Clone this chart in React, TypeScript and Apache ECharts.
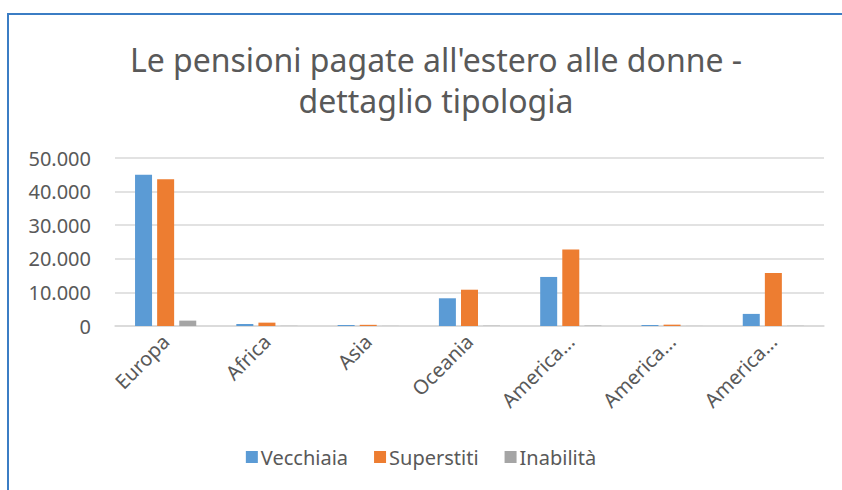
import React, { useEffect, useRef } from "react";
import * as echarts from "echarts";

const categories = [
  "Europa",
  "Africa",
  "Asia",
  "Oceania",
  "America settentrionale",
  "America centrale",
  "America meridionale",
];
const vecchiaia = [45000, 600, 300, 8250, 14600, 300, 3600];
const superstiti = [43650, 1000, 350, 10800, 22800, 400, 15800];
const inabilita = [1600, 50, 30, 80, 120, 20, 60];
const seriesNames = ["Vecchiaia", "Superstiti", "Inabilità"];
const yTicks = { min: 0, max: 50000, interval: 10000 };
const titleText = "Le pensioni pagate all'estero alle donne -\ndettaglio tipologia";

const FONT = "'Noto Sans', 'Open Sans', sans-serif";
const TEXT = "#595959";

export default function App() {
  const ref = useRef<HTMLDivElement>(null);
  useEffect(() => {
    if (!ref.current) return;
    const chart = echarts.init(ref.current, null, { renderer: "svg" });
    const colors = ["#5b9bd5", "#ed7d31", "#a5a5a5"];
    const data = [vecchiaia, superstiti, inabilita];
    chart.setOption({
      animation: false,
      backgroundColor: "#ffffff",
      color: colors,
      textStyle: { fontFamily: FONT },
      title: {
        text: titleText,
        left: 431,
        textAlign: "center",
        top: 34,
        textStyle: {
          fontFamily: FONT,
          fontSize: 32,
          fontWeight: "normal",
          color: TEXT,
          lineHeight: 41,
        },
      },
      graphic: [
        {
          type: "rect",
          shape: { x: 8, y: 14, width: 900, height: 600 },
          style: { fill: "none", stroke: "#3b7dc4", lineWidth: 2 },
          silent: true,
          z: 100,
        },
      ],
      legend: {
        data: seriesNames,
        bottom: 18,
        left: "center",
        itemWidth: 12,
        itemHeight: 12,
        itemGap: 26,
        icon: "rect",
        textStyle: { fontFamily: FONT, fontSize: 20, color: TEXT, padding: [0, 0, 0, -2] },
      },
      grid: { left: 115, right: 18, top: 158, bottom: 164, containLabel: false },
      xAxis: {
        type: "category",
        data: categories,
        axisLine: { lineStyle: { color: "#d9d9d9", width: 1.5 } },
        axisTick: { show: false },
        axisLabel: {
          rotate: 45,
          margin: 12,
          fontFamily: FONT,
          fontSize: 20,
          color: TEXT,
          interval: 0,
          formatter: (v: string) => (v.length > 8 ? v.slice(0, 7) + "..." : v),
        },
      },
      yAxis: {
        type: "value",
        min: yTicks.min,
        max: yTicks.max,
        interval: yTicks.interval,
        axisLine: { show: false },
        axisTick: { show: false },
        splitLine: { lineStyle: { color: "#d9d9d9", width: 1.5 } },
        axisLabel: {
          margin: 24,
          fontFamily: FONT,
          fontSize: 20,
          color: TEXT,
          formatter: (v: number) =>
            v === 0 ? "0" : v.toString().replace(/\B(?=(\d{3})+(?!\d))/g, "."),
        },
      },
      series: seriesNames.map((name, i) => ({
        name,
        type: "bar",
        data: data[i],
        barWidth: 17,
        barGap: "30%",
        itemStyle: { color: colors[i] },
      })),
    });
    return () => chart.dispose();
  }, []);
  return (
    <div
      ref={ref}
      style={{ position: "absolute", left: 0, top: 0, width: 842, height: 490 }}
    />
  );
}
